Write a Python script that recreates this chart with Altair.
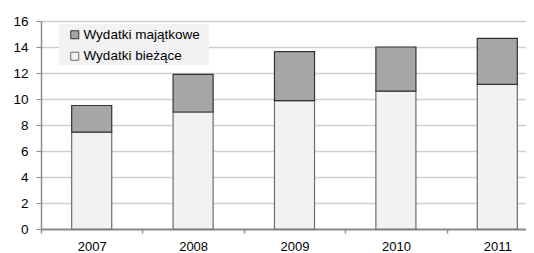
import altair as alt
import pandas as pd

years = ["2007", "2008", "2009", "2010", "2011"]
biezace = [7.45, 9.0, 9.87, 10.6, 11.13]
majatkowe = [2.05, 2.9, 3.77, 3.4, 3.54]
series = ["Wydatki majątkowe", "Wydatki bieżące"]
y_ticks = [0, 2, 4, 6, 8, 10, 12, 14, 16]

rows = []
for i, yr in enumerate(years):
    rows.append({"year": yr, "series": series[1], "value": biezace[i], "order": 0})
    rows.append({"year": yr, "series": series[0], "value": majatkowe[i], "order": 1})
df = pd.DataFrame(rows)

FONT = "Liberation Sans"

bars = alt.Chart(df).mark_bar(strokeWidth=1.2, width=alt.RelativeBandSize(0.395)).encode(
    x=alt.X("year:N", sort=years, title=None,
            scale=alt.Scale(range=[0, 507], paddingInner=0, paddingOuter=0),
            axis=alt.Axis(labelAngle=0, labelFont=FONT, labelFontSize=13, labelColor="#000",
                          domainColor="#8c8c8c", domainWidth=2, tickColor="#8c8c8c",
                          tickSize=4, tickWidth=1.5, tickBand="extent", labelPadding=7,
                          grid=False)),
    y=alt.Y("value:Q", stack="zero", title=None,
            scale=alt.Scale(domain=[0, 16], nice=False),
            axis=alt.Axis(values=y_ticks, labelFont=FONT, labelFontSize=13.5, labelColor="#000",
                          domainColor="#8c8c8c", domainWidth=1.5, tickColor="#8c8c8c",
                          tickSize=5, labelPadding=8, gridColor="#cfcfcf", gridWidth=1.5)),
    color=alt.Color("series:N", sort=series,
                    scale=alt.Scale(domain=series, range=["#a6a6a6", "#f2f2f2"]),
                    legend=alt.Legend(title=None, orient="none", legendX=17, legendY=7,
                                      labelFont=FONT, labelFontSize=13.5, labelColor="#000",
                                      symbolType="square", symbolSize=64,
                                      symbolStrokeColor="#404040", symbolStrokeWidth=1,
                                      symbolOffset=10, labelOffset=2, rowPadding=6.5,
                                      padding=0)),
    stroke=alt.Stroke("series:N", scale=alt.Scale(domain=series, range=["#333333", "#6e6e6e"]),
                      legend=None),
    order=alt.Order("order:Q"),
)

bg = alt.Chart(pd.DataFrame({"a": [0]})).mark_rect(color="#f2f2f2").encode(
    x=alt.value(18), x2=alt.value(168), y=alt.value(3), y2=alt.value(44)
)

chart = alt.layer(bg, bars).properties(
    width=485, height=208,
    autosize=alt.AutoSizeParams(type="none"),
    padding={"left": 33, "top": 13, "right": 0, "bottom": 24},
).configure_view(stroke=None).configure_axis(domainCap="butt")

chart.save("out.html", embed_options={"renderer": "svg", "actions": False})
